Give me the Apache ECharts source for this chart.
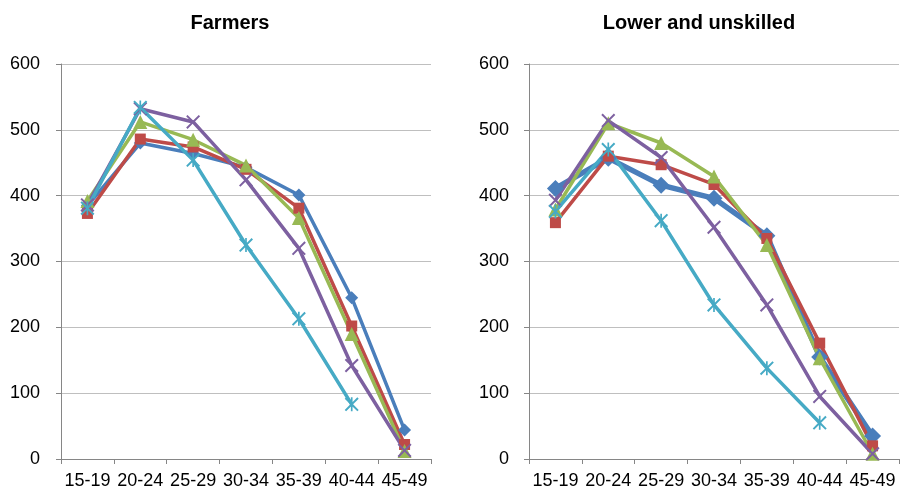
<!DOCTYPE html>
<html>
<head>
<meta charset="utf-8">
<script src="https://cdn.jsdelivr.net/npm/echarts@6/dist/echarts.min.js"></script>
<style>
html,body{margin:0;padding:0;background:#fff;}
#c{width:901px;height:496px;}
</style>
</head>
<body>
<div id="c"></div>
<script>
const categories = ['15-19','20-24','25-29','30-34','35-39','40-44','45-49'];
const yTicks = [0,100,200,300,400,500,600];
const titles = ['Farmers','Lower and unskilled'];

const farmersBlue   = [385, 480, 464, 443, 401, 245, 44];
const farmersRed    = [373, 486, 474, 440, 381, 202, 22];
const farmersGreen  = [392, 512, 485, 446, 366, 190, 12];
const farmersPurple = [386, 532, 512, 424, 320, 142, 13];
const farmersCyan   = [381, 534, 454, 325, 213, 83, null];

const lowerBlue   = [411, 457, 416, 396, 339, 155, 35];
const lowerRed    = [359, 460, 447, 417, 335, 176, 20];
const lowerGreen  = [379, 510, 480, 429, 325, 153, 8];
const lowerPurple = [393, 514, 458, 352, 234, 95, 8];
const lowerCyan   = [376, 470, 362, 234, 138, 55, null];

const COL = {blue:'#4A7EBB', red:'#BE4B48', green:'#98B954', purple:'#7D60A0', cyan:'#46AAC5'};
const X_PATH = 'path://M0,1L1,0L5,4L9,0L10,1L6,5L10,9L9,10L5,6L1,10L0,9L4,5Z';
const STAR_PATH = 'path://M0,1L1,0L5,4L9,0L10,1L6,5L10,9L9,10L5,6L1,10L0,9L4,5Z M4.4,0L5.6,0L5.6,10L4.4,10Z';

const FONT = '"Liberation Sans", Arial, sans-serif';

function mk(data, color, symbol, size, gi, lw) {
  return {
    type:'line', data:data, xAxisIndex:gi, yAxisIndex:gi,
    symbol:symbol, symbolSize:size, showSymbol:true,
    lineStyle:{color:color, width:lw||3.5},
    itemStyle:{color:color, borderWidth:0},
    connectNulls:false, animation:false, z:2
  };
}

const grids = [
  {left:61, right:470, top:64, bottom:37},
  {left:529, right:2, top:64, bottom:37}
];

function xAx(gi){
  return {
    type:'category', gridIndex:gi, data:categories, boundaryGap:true,
    axisLine:{lineStyle:{color:'#868686', width:1}},
    axisTick:{show:true, interval:0, length:5, lineStyle:{color:'#868686'}},
    axisLabel:{interval:0, color:'#000', fontSize:18, fontFamily:FONT, margin:13},
    splitLine:{show:false}
  };
}
function yAx(gi, margin){
  return {
    type:'value', gridIndex:gi, min:yTicks[0], max:yTicks[yTicks.length-1], interval:100,
    axisLine:{show:true, lineStyle:{color:'#868686', width:1}},
    axisTick:{show:true, length:5, lineStyle:{color:'#868686'}},
    axisLabel:{color:'#000', fontSize:18, fontFamily:FONT, margin:margin},
    splitLine:{show:true, lineStyle:{color:'#BFBFBF', width:1}}
  };
}

const option = {
  backgroundColor:'#fff',
  animation:false,
  title:[
    {text:titles[0], left:225, top:8, textAlign:'center', textStyle:{fontSize:20, fontWeight:'bold', fontFamily:FONT, color:'#000'}},
    {text:titles[1], left:694, top:8, textAlign:'center', textStyle:{fontSize:20, fontWeight:'bold', fontFamily:FONT, color:'#000'}}
  ],
  grid:grids,
  xAxis:[xAx(0), xAx(1)],
  yAxis:[yAx(0,21), yAx(1,20)],
  series:[
    mk(farmersBlue, COL.blue, 'diamond', 13, 0),
    mk(farmersRed, COL.red, 'rect', 11, 0),
    mk(farmersGreen, COL.green, 'triangle', 14, 0),
    mk(farmersPurple, COL.purple, X_PATH, 14, 0),
    mk(farmersCyan, COL.cyan, STAR_PATH, 14, 0),
    mk(lowerBlue, COL.blue, 'diamond', 17, 1, 5.5),
    mk(lowerRed, COL.red, 'rect', 11, 1),
    mk(lowerGreen, COL.green, 'triangle', 14, 1),
    mk(lowerPurple, COL.purple, X_PATH, 14, 1),
    mk(lowerCyan, COL.cyan, STAR_PATH, 14, 1)
  ]
};

const chart = echarts.init(document.getElementById('c'), null, {renderer:'canvas'});
chart.setOption(option);
</script>
</body>
</html>
